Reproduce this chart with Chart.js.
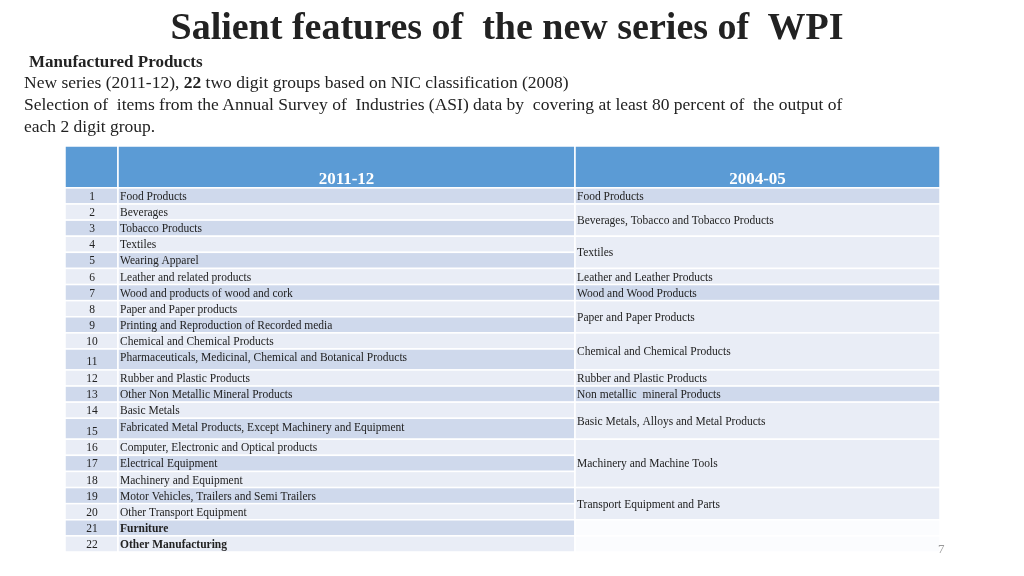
<!DOCTYPE html>
<html><head><meta charset="utf-8">
<script src="https://cdn.jsdelivr.net/npm/chart.js@4"></script>
<style>
body{margin:0;width:1024px;height:576px;overflow:hidden;background:#fff;font-family:"Liberation Serif","DejaVu Serif",serif;color:#222}
#wrap{position:absolute;left:0;top:0;width:1024px;height:576px}
.t{position:absolute;white-space:nowrap;font-family:"Liberation Serif","DejaVu Serif",serif}
</style></head><body>
<div id="wrap"><canvas id="c" width="1024" height="576"></canvas></div>
<div class="t" style="left:0;width:1014px;text-align:center;top:4px;font-size:38px;font-weight:bold">Salient features of&nbsp; the new series of&nbsp; WPI</div>
<div class="t" style="left:29px;top:52px;font-size:17px;font-weight:bold">Manufactured Products</div>
<div class="t" style="left:24px;top:72px;font-size:17.5px">New series (2011-12), <b>22</b> two digit groups based on NIC classification (2008)</div>
<div class="t" style="left:24px;top:94px;font-size:17.5px">Selection of&nbsp; items from the Annual Survey of&nbsp; Industries (ASI) data by&nbsp; covering at least 80 percent of&nbsp; the output of</div>
<div class="t" style="left:24px;top:116px;font-size:17.5px">each 2 digit group.</div>
<div class="t" style="left:938px;top:541px;font-size:13px;color:#999">7</div>
<script>
const headers = ["", "2011-12", "2004-05"];
const rowNumbers = ["1","2","3","4","5","6","7","8","9","10","11","12","13","14","15","16","17","18","19","20","21","22"];
const groups2011 = ["Food Products","Beverages","Tobacco Products","Textiles","Wearing Apparel","Leather and related products","Wood and products of wood and cork","Paper and Paper products","Printing and Reproduction of Recorded media","Chemical and Chemical Products","Pharmaceuticals, Medicinal, Chemical and Botanical Products","Rubber and Plastic Products","Other Non Metallic Mineral Products","Basic Metals","Fabricated Metal Products, Except Machinery and Equipment","Computer, Electronic and Optical products","Electrical Equipment","Machinery and Equipment","Motor Vehicles, Trailers and Semi Trailers","Other Transport Equipment","Furniture","Other Manufacturing"];
const boldRows = ["21","22"];
// 2004-05 groups: [label, first row, last row]
const groups2004 = [["Food Products",1,1],["Beverages, Tobacco and Tobacco Products",2,3],["Textiles",4,5],["Leather and Leather Products",6,6],["Wood and Wood Products",7,7],["Paper and Paper Products",8,9],["Chemical and Chemical Products",10,11],["Rubber and Plastic Products",12,12],["Non metallic  mineral Products",13,13],["Basic Metals, Alloys and Metal Products",14,15],["Machinery and Machine Tools",16,18],["Transport Equipment and Parts",19,20],["",21,21],["",22,22]];
const rowWeights = [1,1,1,1,1,1,1,1,1,1,1.3,1,1,1,1.3,1,1,1,1,1,1,1];

const HEAD = 2.6;
const tops = []; let acc = HEAD;
rowWeights.forEach(w=>{tops.push(acc); acc+=w;});
const total = acc;
const colEdges = [0,53,510,875];
const C1='#cfd9ec', C2='#e9edf6', HB='#5b9bd5';

const tablePlugin = {
  id:'table',
  afterDatasetsDraw(chart){
    const ctx=chart.ctx, xs=chart.scales.x, ys=chart.scales.y;
    const X=v=>xs.getPixelForValue(v), Y=v=>ys.getPixelForValue(v);
    ctx.save();
    const cell=(c0,c1,r0,r1,fill)=>{
      ctx.fillStyle=fill; ctx.fillRect(X(c0),Y(r0),X(c1)-X(c0),Y(r1)-Y(r0));
      ctx.strokeStyle='#fff'; ctx.lineWidth=1.5; ctx.strokeRect(X(c0),Y(r0),X(c1)-X(c0),Y(r1)-Y(r0));
    };
    for(let c=0;c<3;c++) cell(colEdges[c],colEdges[c+1],0,HEAD,HB);
    ctx.fillStyle='#fff'; ctx.font='bold 17px "Liberation Serif"'; ctx.textAlign='center'; ctx.textBaseline='middle';
    for(let c=1;c<3;c++) ctx.fillText(headers[c],(X(colEdges[c])+X(colEdges[c+1]))/2,Y(HEAD*0.8));
    rowNumbers.forEach((n,i)=>{
      const r0=tops[i], r1=r0+rowWeights[i], f=i%2===0?C1:C2;
      cell(colEdges[0],colEdges[1],r0,r1,f);
      cell(colEdges[1],colEdges[2],r0,r1,f);
      ctx.fillStyle='#222'; ctx.font='11.5px "Liberation Serif"'; ctx.textBaseline='middle';
      ctx.textAlign='center'; ctx.fillText(n,X(colEdges[0])+27,(Y(r0)+Y(r1))/2+(rowWeights[i]>1?3:1));
      ctx.textAlign='left';
      ctx.font=(boldRows.includes(n)?'bold ':'')+'11.5px "Liberation Serif"';
      ctx.fillText(groups2011[i],X(colEdges[1])+2,(Y(r0)+Y(r1))/2-(rowWeights[i]>1?1:-1));
    });
    groups2004.forEach((g,k)=>{
      const r0=tops[g[1]-1], r1=tops[g[2]-1]+rowWeights[g[2]-1];
      const f=(g[2]-g[1]>0)?C2:((g[1]-1)%2===0?C1:C2);
      cell(colEdges[2],colEdges[3],r0,r1,g[0]===''?'#fbfcfe':f);
      ctx.fillStyle='#222'; ctx.font='11.5px "Liberation Serif"'; ctx.textAlign='left';
      ctx.fillText(g[0],X(colEdges[2])+2,(Y(r0)+Y(r1))/2+1);
    });
    ctx.restore();
  }
};

new Chart(document.getElementById('c'),{
  type:'scatter',
  data:{datasets:[{data:[],pointRadius:0}]},
  options:{responsive:false,animation:false,
    layout:{padding:{left:65,right:84,top:146,bottom:24}},
    plugins:{legend:{display:false},tooltip:{enabled:false}},
    scales:{x:{type:'linear',min:0,max:colEdges[3],display:false},
            y:{type:'linear',min:0,max:total,reverse:true,display:false}}},
  plugins:[tablePlugin]
});
</script>
</body></html>
